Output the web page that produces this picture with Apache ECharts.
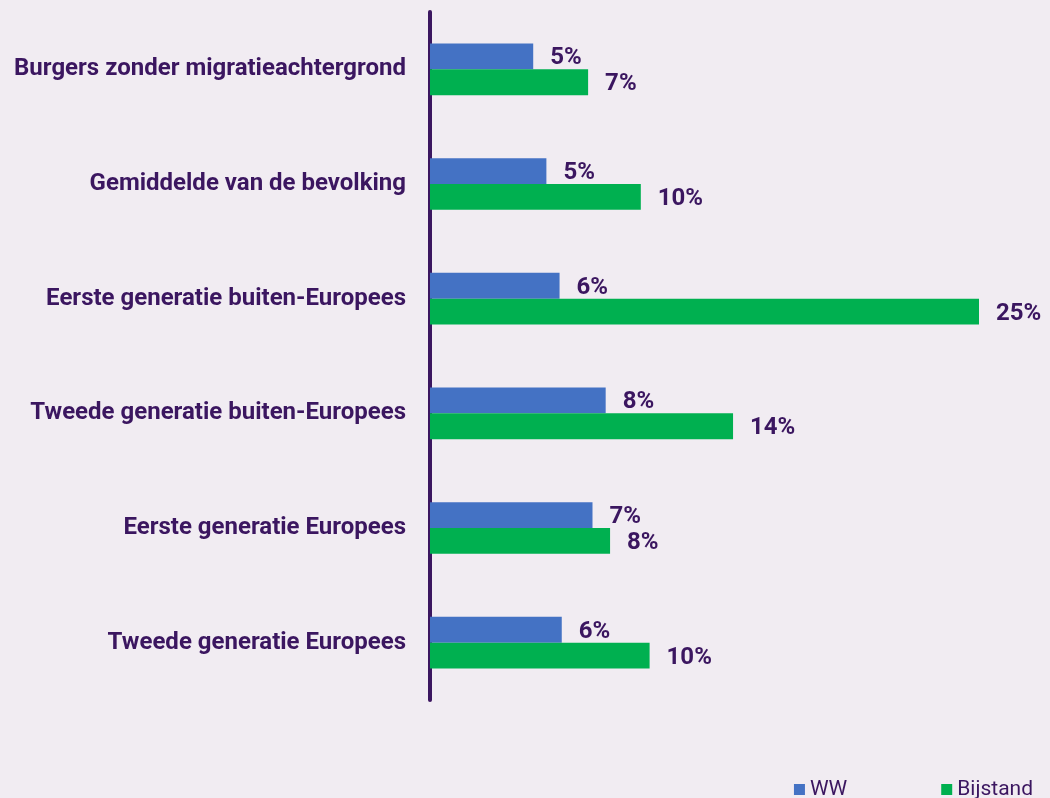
<!DOCTYPE html>
<html><head><meta charset="utf-8">
<script src="https://cdn.jsdelivr.net/npm/echarts@6/dist/echarts.min.js"></script>
<style>html,body{margin:0;padding:0;background:#f1ecf2;}#c{width:1050px;height:798px;}</style>
</head><body><div id="c"></div>
<script>
const categories = ["Burgers zonder migratieachtergrond","Gemiddelde van de bevolking","Eerste generatie buiten-Europees","Tweede generatie buiten-Europees","Eerste generatie Europees","Tweede generatie Europees"];
const wwValues = [4.7, 5.3, 5.9, 8.0, 7.4, 6.0];
const bijstandValues = [7.2, 9.6, 25.0, 13.8, 8.2, 10.0];
const seriesNames = ["WW", "Bijstand"];

const purple = '#3b1660';
const chart = echarts.init(document.getElementById('c'));
const lbl = {show:true, position:'right', distance:17, offset:[0,2], color:purple, fontFamily:'Roboto', fontWeight:'bold', fontSize:24, formatter:p=>Math.round(p.value)+'%'};
chart.setOption({
  backgroundColor:'#f1ecf2',
  animation:false,
  grid:{left:430, top:12, width:549, height:688},
  legend:{right:12, bottom:-7, itemWidth:11, itemHeight:11, itemGap:94, icon:'rect',
    textStyle:{color:purple, fontFamily:'Roboto', fontSize:21}, data:seriesNames},
  xAxis:{type:'value', min:0, max:25, show:false},
  yAxis:{type:'category', data:categories, inverse:true, offset:2,
    axisLine:{show:true, lineStyle:{color:purple, width:4}},
    axisTick:{show:false},
    axisLabel:{color:purple, fontFamily:'Roboto', fontWeight:'bold', fontSize:24, margin:22, padding:[2,0,0,0]}},
  series:[
    {name:seriesNames[0], type:'bar', data:wwValues, barGap:'0%', barCategoryGap:'55%', itemStyle:{color:'#4472c4'}, label:lbl},
    {name:seriesNames[1], type:'bar', data:bijstandValues, itemStyle:{color:'#00b050'}, label:lbl}
  ]
});
</script></body></html>
